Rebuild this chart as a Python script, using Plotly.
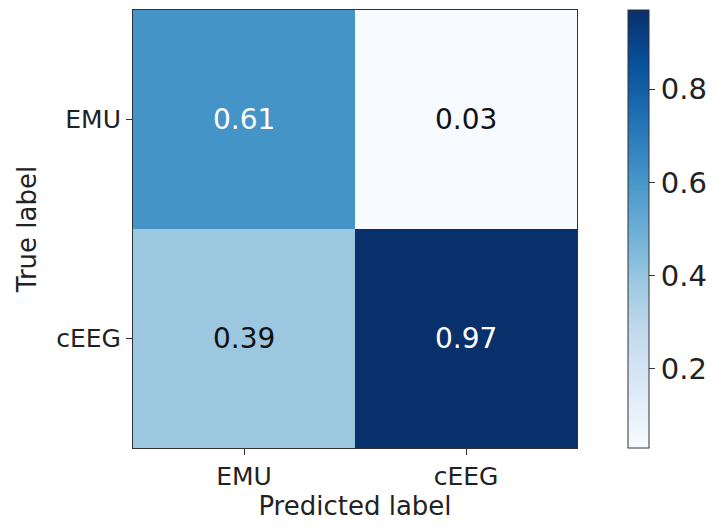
import plotly.graph_objects as go

pred_labels = ["EMU", "cEEG"]
true_labels = ["EMU", "cEEG"]
values = [[0.61, 0.03],
          [0.39, 0.97]]
cbar_ticks = [0.2, 0.4, 0.6, 0.8]

blues = [
    [0.0, "rgb(247,251,255)"], [0.125, "rgb(222,235,247)"], [0.25, "rgb(198,219,239)"],
    [0.375, "rgb(158,202,225)"], [0.5, "rgb(107,174,214)"], [0.625, "rgb(66,146,198)"],
    [0.75, "rgb(33,113,181)"], [0.875, "rgb(8,81,156)"], [1.0, "rgb(8,48,107)"],
]

FONT = "DejaVu Sans"
zmin = min(min(r) for r in values)
zmax = max(max(r) for r in values)

fig = go.Figure(go.Heatmap(
    z=values, x=pred_labels, y=true_labels,
    colorscale=blues, zmin=zmin, zmax=zmax,
    showscale=True, hoverinfo="skip",
    colorbar=dict(
        x=1.115, xanchor="left", xref="paper",
        y=0.5, yanchor="middle",
        len=438, lenmode="pixels",
        thickness=21, thicknessmode="pixels",
        outlinewidth=1, outlinecolor="#333",
        tickvals=cbar_ticks, ticktext=[f"{t:.1f}" for t in cbar_ticks],
        ticks="outside", ticklen=6, tickcolor="#333",
        tickfont=dict(family=FONT, size=29, color="#222"),
        xpad=0, ypad=0,
    ),
))

thr = (zmin + zmax) / 2
for i, row in enumerate(values):
    for j, v in enumerate(row):
        fig.add_annotation(
            x=pred_labels[j], y=true_labels[i], text=f"{v:.2f}",
            showarrow=False,
            font=dict(family=FONT, size=28, color="white" if v > thr else "#111"),
        )

fig.update_layout(
    width=719, height=521,
    margin=dict(l=125, r=150, t=2, b=81),
    paper_bgcolor="white", plot_bgcolor="white",
    font=dict(family=FONT, color="#222"),
)
fig.update_xaxes(
    title=dict(text="Predicted label", font=dict(family=FONT, size=26), standoff=2),
    tickfont=dict(family=FONT, size=25),
    ticks="outside", ticklen=6, tickcolor="#333",
    showline=True, linecolor="#333", linewidth=1, mirror=True,
    showgrid=False, zeroline=False,
)
fig.update_yaxes(
    title=dict(text="True label", font=dict(family=FONT, size=26), standoff=12),
    tickfont=dict(family=FONT, size=25),
    ticks="outside", ticklen=6, tickcolor="#333",
    showline=True, linecolor="#333", linewidth=1, mirror=True,
    showgrid=False, zeroline=False, autorange="reversed",
)

fig.write_html("out.html")
